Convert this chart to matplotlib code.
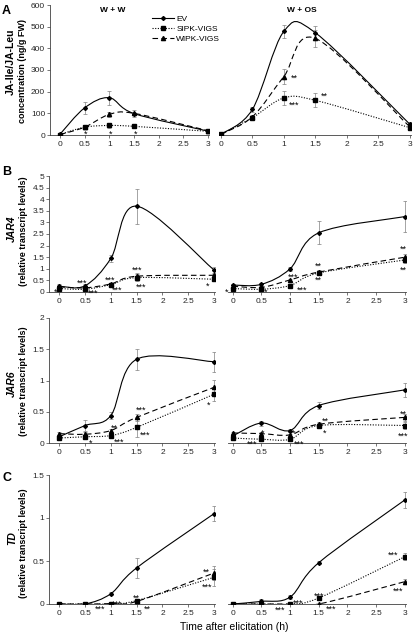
import numpy as np
import matplotlib
matplotlib.use("Agg")
import matplotlib.pyplot as plt
from matplotlib.path import Path
from matplotlib.patches import PathPatch
from matplotlib.lines import Line2D
from matplotlib.ticker import FuncFormatter

plt.rcParams['font.family'] = ['Liberation Sans', 'DejaVu Sans']

# ==========================
# DATA
# ==========================
times = [0, 0.5, 1, 1.5, 3]
time_ticks = [0, 0.5, 1, 1.5, 2, 2.5, 3]
lines = ["EV", "SIPK-VIGS", "WIPK-VIGS"]

# A: JA-Ile/JA-Leu (ng/g FW)
ja_ww_ev = [3, 125, 172, 99, 18]
ja_ww_sipk = [2, 36, 44, 40, 17]
ja_ww_wipk = [2, 36, 95, 100, 20]
ja_ww_ev_err = [3, 28, 32, 15, 5]
ja_ww_sipk_err = [2, 10, 10, 8, 5]
ja_ww_wipk_err = [2, 8, 10, 8, 5]
ja_os_ev = [3, 118, 478, 472, 50]
ja_os_sipk = [3, 80, 171, 160, 34]
ja_os_wipk = [3, 84, 270, 446, 38]
ja_os_ev_err = [3, 10, 30, 30, 8]
ja_os_sipk_err = [2, 8, 34, 32, 6]
ja_os_wipk_err = [2, 8, 34, 38, 6]

# B: JAR4 (relative transcript levels)
jar4_ww_ev = [0.25, 0.27, 1.45, 3.7, 0.95]
jar4_ww_sipk = [0.15, 0.12, 0.32, 0.62, 0.55]
jar4_ww_wipk = [0.22, 0.18, 0.35, 0.68, 0.72]
jar4_ww_ev_err = [0.08, 0.07, 0.15, 0.75, 0.12]
jar4_ww_sipk_err = [0.05, 0.04, 0.05, 0.15, 0.05]
jar4_ww_wipk_err = [0.05, 0.04, 0.05, 0.12, 0.06]
jar4_os_ev = [0.3, 0.33, 1.0, 2.55, 3.25]
jar4_os_sipk = [0.15, 0.12, 0.28, 0.82, 1.38]
jar4_os_wipk = [0.25, 0.2, 0.52, 0.86, 1.5]
jar4_os_ev_err = [0.06, 0.05, 0.08, 0.5, 0.68]
jar4_os_sipk_err = [0.04, 0.04, 0.04, 0.08, 0.15]
jar4_os_wipk_err = [0.04, 0.04, 0.06, 0.08, 0.12]

# B: JAR6 (relative transcript levels)
jar6_ww_ev = [0.1, 0.28, 0.44, 1.34, 1.3]
jar6_ww_sipk = [0.08, 0.1, 0.12, 0.25, 0.78]
jar6_ww_wipk = [0.15, 0.14, 0.2, 0.41, 0.89]
jar6_ww_ev_err = [0.03, 0.09, 0.06, 0.17, 0.16]
jar6_ww_sipk_err = [0.02, 0.02, 0.02, 0.15, 0.1]
jar6_ww_wipk_err = [0.03, 0.03, 0.03, 0.05, 0.12]
jar6_os_ev = [0.11, 0.32, 0.2, 0.6, 0.85]
jar6_os_sipk = [0.08, 0.06, 0.06, 0.28, 0.28]
jar6_os_wipk = [0.16, 0.15, 0.13, 0.3, 0.41]
jar6_os_ev_err = [0.02, 0.04, 0.02, 0.06, 0.11]
jar6_os_sipk_err = [0.02, 0.02, 0.02, 0.04, 0.06]
jar6_os_wipk_err = [0.02, 0.02, 0.02, 0.03, 0.06]

# C: TD (relative transcript levels)
td_ww_ev = [0, 0, 0.12, 0.42, 1.05]
td_ww_sipk = [0, 0, 0, 0.04, 0.31]
td_ww_wipk = [0, 0, 0.005, 0.03, 0.36]
td_ww_ev_err = [0.01, 0.01, 0.02, 0.12, 0.09]
td_ww_sipk_err = [0, 0, 0, 0.02, 0.1]
td_ww_wipk_err = [0, 0, 0, 0.02, 0.08]
td_os_ev = [0, 0.03, 0.08, 0.48, 1.21]
td_os_sipk = [0, 0, 0, 0.07, 0.55]
td_os_wipk = [0, 0, 0, 0, 0.26]
td_os_ev_err = [0.01, 0.03, 0.02, 0.02, 0.09]
td_os_sipk_err = [0, 0, 0, 0.02, 0.04]
td_os_wipk_err = [0, 0, 0, 0, 0.03]

# significance marks: (time, value, text)
ja_ww_stars = [(0.53, 18, "*"), (1.03, 18, "*"), (1.54, 18, "*")]
ja_os_stars = [(1.16, 272, "**"), (1.17, 148, "***"), (1.65, 189, "**")]
jar4_ww_stars = [(-0.08, 0.09, "*"), (0.44, 0.51, "***"), (0.65, 0.04, "***"),
                 (0.98, 0.64, "***"), (1.12, 0.17, "***"), (1.5, 1.07, "***"),
                 (1.58, 0.3, "***"), (2.88, 0.38, "*")]
jar4_os_stars = [(-0.1, 0.09, "*"), (0.58, 0.09, "*"), (1.05, 0.73, "***"),
                 (1.21, 0.21, "***"), (1.49, 1.24, "**"), (1.49, 0.6, "**"),
                 (2.97, 1.97, "**"), (2.97, 1.07, "**")]
jar6_ww_stars = [(0.61, 0.04, "*"), (1.06, 0.28, "**"), (1.16, 0.05, "***"),
                 (1.59, 0.57, "***"), (1.66, 0.17, "***"), (2.9, 0.65, "*")]
jar6_os_stars = [(0.53, 0.2, "*"), (0.34, 0.02, "***"), (1.07, 0.2, "*"),
                 (1.16, 0.02, "***"), (1.61, 0.39, "**"), (1.6, 0.2, "*"),
                 (2.97, 0.5, "**"), (2.97, 0.15, "***")]
td_ww_stars = [(0.8, -0.03, "***"), (1.12, 0.03, "***"), (1.5, 0.1, "**"),
               (1.7, -0.03, "**"), (2.85, 0.4, "**"), (2.86, 0.23, "***")]
td_os_stars = [(0.82, -0.04, "***"), (1.14, 0.04, "***"), (1.51, 0.12, "***"),
               (1.72, -0.03, "***"), (2.79, 0.6, "***"), (2.88, 0.18, "***")]

# ==========================
# STYLE
# ==========================
W, H = 414, 634
styles = {
    "EV": dict(ls="-", marker="D", ms=2.0),
    "SIPK-VIGS": dict(ls=(0, (1, 1.4)), marker="s", ms=2.8),
    "WIPK-VIGS": dict(ls=(0, (5, 3)), marker="^", ms=3.0),
}
TICK_FS = 6


def smooth_path(x, y):
    # Catmull-Rom style bezier, like spreadsheet "smoothed line"
    pts = np.column_stack([x, y]).astype(float)
    n = len(pts)
    verts = [pts[0]]
    codes = [Path.MOVETO]
    for i in range(n - 1):
        p0 = pts[max(i - 1, 0)]
        p1 = pts[i]
        p2 = pts[i + 1]
        p3 = pts[min(i + 2, n - 1)]
        verts += [p1 + (p2 - p0) / 6, p2 - (p3 - p1) / 6, p2]
        codes += [Path.CURVE4] * 3
    return Path(verts, codes)


def add_ax(x0, x1, ytop, ybot):
    return fig.add_axes([x0 / W, 1 - ybot / H, (x1 - x0) / W, (ybot - ytop) / H])


def style_ax(ax, xlim, ylim, yticks, left):
    ax.set_xlim(*xlim)
    ax.set_ylim(*ylim)
    ax.patch.set_alpha(0)
    for s in ["top", "right"]:
        ax.spines[s].set_visible(False)
    ax.spines["left"].set_visible(left)
    for s in ["left", "bottom"]:
        ax.spines[s].set_linewidth(0.6)
        ax.spines[s].set_color("0.25")
    ax.set_xticks(time_ticks)
    ax.xaxis.set_major_formatter(FuncFormatter(lambda v, p: "%g" % v))
    ax.tick_params(axis="x", length=2, width=0.5, pad=2, labelsize=TICK_FS,
                   colors="0.25", labelcolor="0.15")
    if left:
        ax.set_yticks(yticks)
        ax.yaxis.set_major_formatter(FuncFormatter(lambda v, p: "%g" % v))
        ax.tick_params(axis="y", length=2, width=0.5, pad=1.5, labelsize=TICK_FS,
                       colors="0.25", labelcolor="0.15")
    else:
        ax.set_yticks([])


def draw(ax, series, errs, stars):
    for name, y, e in zip(lines, series, errs):
        st = styles[name]
        ax.errorbar(times, y, yerr=e, fmt="none", ecolor="0.5", elinewidth=0.5,
                    capsize=1.5, capthick=0.5, zorder=2)
        ax.add_patch(PathPatch(smooth_path(times, y), fill=False, ec="black",
                               lw=0.8, ls=st["ls"], zorder=3))
        ax.plot(times, y, ls="none", marker=st["marker"], ms=st["ms"],
                color="black", zorder=4)
    for x, y, s in stars:
        ax.annotate(s, (x, y), xytext=(0, -3.7), textcoords="offset points",
                    ha="center", va="baseline", fontsize=6.5, annotation_clip=False)


# ==========================
# PLOT
# ==========================
fig = plt.figure(figsize=(W / 100, H / 100), dpi=100)

rows = [
    dict(top=5, bot=135, ylim=(0, 600), yticks=range(0, 601, 100),
         lx=(50, 209), lxlim=(-0.2, 3.02), rx=(219, 411), rxlim=(-0.03, 3.02),
         ww=([ja_ww_ev, ja_ww_sipk, ja_ww_wipk],
             [ja_ww_ev_err, ja_ww_sipk_err, ja_ww_wipk_err], ja_ww_stars),
         os=([ja_os_ev, ja_os_sipk, ja_os_wipk],
             [ja_os_ev_err, ja_os_sipk_err, ja_os_wipk_err], ja_os_stars)),
    dict(top=176, bot=292, ylim=(0, 5), yticks=np.arange(0, 5.01, 0.5),
         lx=(49, 215), lxlim=(-0.2, 3.02), rx=(228, 406), rxlim=(-0.08, 3.02),
         ww=([jar4_ww_ev, jar4_ww_sipk, jar4_ww_wipk],
             [jar4_ww_ev_err, jar4_ww_sipk_err, jar4_ww_wipk_err], jar4_ww_stars),
         os=([jar4_os_ev, jar4_os_sipk, jar4_os_wipk],
             [jar4_os_ev_err, jar4_os_sipk_err, jar4_os_wipk_err], jar4_os_stars)),
    dict(top=318, bot=443, ylim=(0, 2), yticks=np.arange(0, 2.01, 0.5),
         lx=(49, 215), lxlim=(-0.2, 3.02), rx=(228, 406), rxlim=(-0.08, 3.02),
         ww=([jar6_ww_ev, jar6_ww_sipk, jar6_ww_wipk],
             [jar6_ww_ev_err, jar6_ww_sipk_err, jar6_ww_wipk_err], jar6_ww_stars),
         os=([jar6_os_ev, jar6_os_sipk, jar6_os_wipk],
             [jar6_os_ev_err, jar6_os_sipk_err, jar6_os_wipk_err], jar6_os_stars)),
    dict(top=475, bot=604, ylim=(0, 1.5), yticks=np.arange(0, 1.51, 0.5),
         lx=(49, 215), lxlim=(-0.2, 3.02), rx=(228, 406), rxlim=(-0.08, 3.02),
         ww=([td_ww_ev, td_ww_sipk, td_ww_wipk],
             [td_ww_ev_err, td_ww_sipk_err, td_ww_wipk_err], td_ww_stars),
         os=([td_os_ev, td_os_sipk, td_os_wipk],
             [td_os_ev_err, td_os_sipk_err, td_os_wipk_err], td_os_stars)),
]

for r in rows:
    axl = add_ax(r["lx"][0], r["lx"][1], r["top"], r["bot"])
    style_ax(axl, r["lxlim"], r["ylim"], r["yticks"], True)
    draw(axl, *r["ww"])
    axr = add_ax(r["rx"][0], r["rx"][1], r["top"], r["bot"])
    style_ax(axr, r["rxlim"], r["ylim"], r["yticks"], False)
    draw(axr, *r["os"])


def ftext(x, y, s, **kw):
    fig.text(x / W, 1 - y / H, s, ha="center", va="center", **kw)


# panel letters
ftext(6, 11, "A", fontsize=9, fontweight="bold")
ftext(7, 172, "B", fontsize=9, fontweight="bold")
ftext(7, 478, "C", fontsize=9, fontweight="bold")

# condition headers
ftext(113, 11, "W + W", fontsize=6, fontweight="bold")
ftext(302, 11, "W + OS", fontsize=6, fontweight="bold")

# y labels
ftext(11, 62, "JA-Ile/JA-Leu", fontsize=7.5, fontweight="bold", rotation=90)
ftext(23, 71, "concentration (ng/g FW)", fontsize=6.5, fontweight="bold", rotation=90)
ftext(12, 229, "JAR4", fontsize=7.5, fontweight="bold", style="italic", rotation=90)
ftext(24, 231, "(relative transcript levels)", fontsize=6.5, fontweight="bold", rotation=90)
ftext(12, 384, "JAR6", fontsize=7.5, fontweight="bold", style="italic", rotation=90)
ftext(24, 381, "(relative transcript levels)", fontsize=6.5, fontweight="bold", rotation=90)
ftext(12, 538, "TD", fontsize=7.5, fontweight="bold", style="italic", rotation=90)
ftext(24, 543, "(relative transcript levels)", fontsize=6.5, fontweight="bold", rotation=90)

# x label
ftext(234, 627, "Time after elicitation (h)", fontsize=7.5)

# legend
handles = [Line2D([], [], color="black", lw=0.8, ls=styles[n]["ls"],
                  marker=styles[n]["marker"], ms=styles[n]["ms"]) for n in lines]
fig.legend(handles, lines, loc="upper left", bbox_to_anchor=(152 / W, 1 - 15 / H),
           frameon=False, fontsize=6, handlelength=2.6, handletextpad=0.3,
           labelspacing=0.25, borderpad=0, borderaxespad=0, numpoints=1)

fig.savefig("out.png", dpi=100)
